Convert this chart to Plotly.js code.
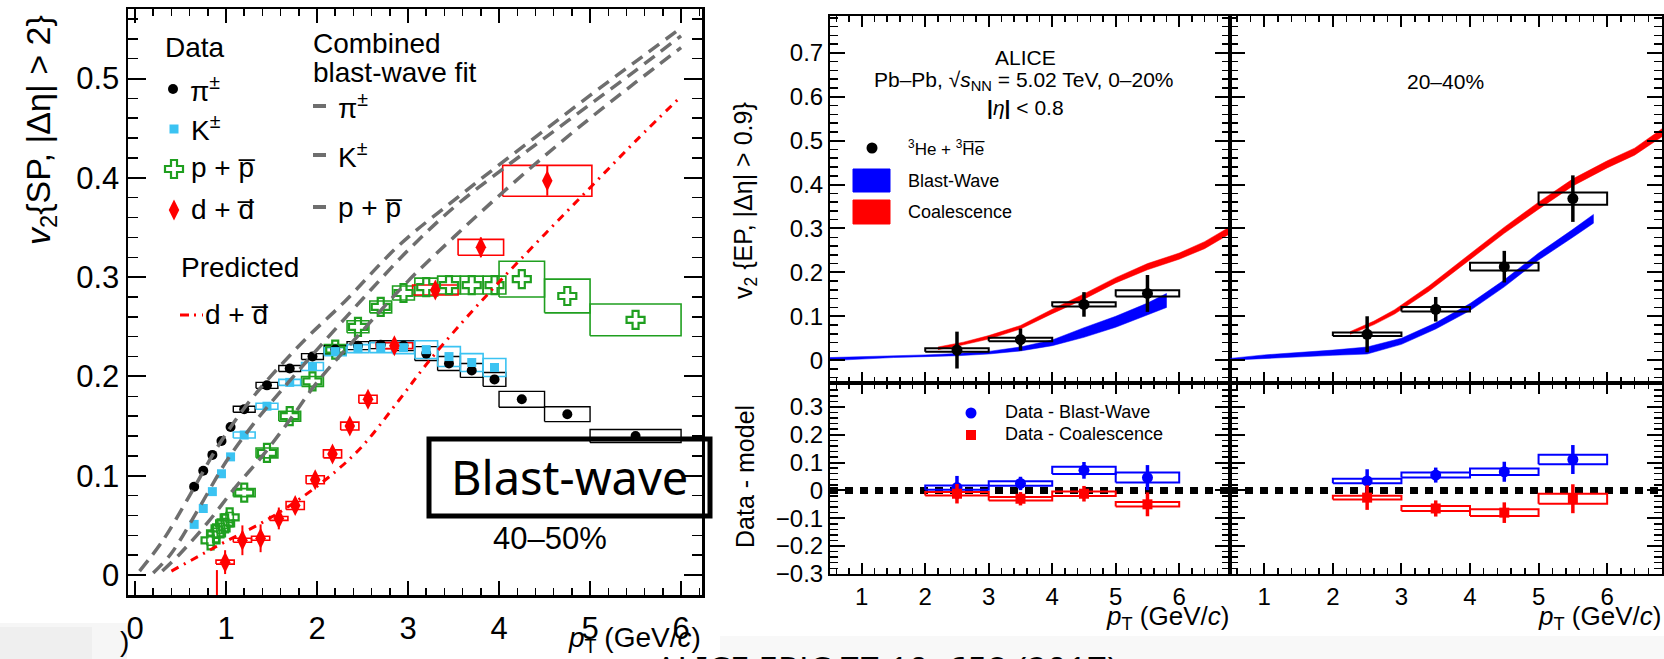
<!DOCTYPE html>
<html><head><meta charset="utf-8">
<script src="https://cdn.plot.ly/plotly-3.0.1.min.js"></script>
<style>html,body{margin:0;padding:0;background:#fff;} #chart{width:1664px;height:659px;}</style>
</head><body><div id="chart"></div>
<script>
// ================= LEFT PANEL: v2{SP,|dEta|>2}, 40-50% =================
const piPt   = [0.65,0.75,0.85,0.95,1.05,1.2,1.45,1.7,1.95,2.2,2.45,2.7,2.95,3.2,3.45,3.7,3.95,4.25,4.75,5.5];
const piV2   = [0.089,0.105,0.121,0.135,0.149,0.167,0.191,0.208,0.220,0.227,0.231,0.232,0.231,0.223,0.213,0.206,0.197,0.177,0.162,0.140];
const piBinH = [0,0,0,0,0,0.12,0.12,0.12,0.12,0.12,0.12,0.12,0.12,0.125,0.125,0.125,0.125,0.25,0.25,0.5];
const piSys  = [0,0,0,0,0,0.003,0.003,0.003,0.003,0.004,0.004,0.004,0.005,0.007,0.007,0.007,0.007,0.008,0.0075,0.0065];

const kPt   = [0.65,0.75,0.85,0.95,1.05,1.2,1.45,1.7,1.95,2.2,2.45,2.7,2.95,3.2,3.45,3.7,3.95];
const kV2   = [0.051,0.067,0.084,0.102,0.119,0.141,0.170,0.194,0.210,0.225,0.228,0.229,0.229,0.227,0.220,0.214,0.209];
const kBinH = [0,0,0,0,0,0.12,0.12,0.12,0.12,0.12,0.12,0.12,0.12,0.125,0.125,0.125,0.125];
const kSys  = [0,0,0,0,0,0.003,0.003,0.003,0.004,0.004,0.004,0.005,0.006,0.009,0.010,0.009,0.009];

const pPt   = [0.83,0.89,0.94,0.99,1.04,1.2,1.45,1.7,1.95,2.2,2.45,2.7,2.95,3.2,3.45,3.7,3.95,4.25,4.75,5.5];
const pV2   = [0.035,0.042,0.047,0.052,0.058,0.083,0.123,0.160,0.195,0.227,0.250,0.270,0.284,0.290,0.292,0.292,0.292,0.298,0.281,0.257];
const pBinH = [0.04,0.04,0.04,0.04,0.04,0.12,0.12,0.12,0.12,0.12,0.12,0.12,0.12,0.125,0.125,0.125,0.125,0.25,0.25,0.5];
const pSys  = [0.005,0.005,0.005,0.005,0.005,0.004,0.005,0.005,0.005,0.005,0.006,0.006,0.007,0.009,0.009,0.009,0.009,0.018,0.017,0.016];

const dPt   = [0.9,0.99,1.18,1.38,1.58,1.76,1.98,2.17,2.36,2.56,2.85,3.3,3.8,4.53];
const dV2   = [-0.04,0.013,0.035,0.037,0.057,0.070,0.096,0.122,0.150,0.177,0.231,0.287,0.330,0.397];
const dErr  = [0.045,0.012,0.015,0.014,0.011,0.005,0.004,0.004,0.004,0.004,0.005,0.006,0.010,0.015];
const dBinH = [0,0.1,0.1,0.1,0.1,0.1,0.1,0.1,0.1,0.1,0.2,0.25,0.25,0.49];
const dSys  = [0,0.002,0.002,0.002,0.002,0.004,0.004,0.004,0.004,0.004,0.003,0.005,0.008,0.0155];

// combined blast-wave fit curves
const bwPiPt = [0.05,0.3,0.6,0.9,1.2,1.5,1.9,2.3,2.9,3.5,4.0,4.5,5.0,5.5,6.0];
const bwPiV2 = [0.004,0.034,0.080,0.128,0.168,0.201,0.240,0.275,0.332,0.377,0.413,0.448,0.483,0.517,0.551];
const bwKPt  = [0.2,0.4,0.7,1.0,1.3,1.6,2.0,2.5,3.0,3.5,4.0,4.5,5.0,5.5,6.0];
const bwKV2  = [0.002,0.022,0.067,0.114,0.152,0.185,0.227,0.278,0.327,0.370,0.406,0.440,0.474,0.508,0.543];
const bwPPt  = [0.3,0.5,0.8,1.1,1.4,1.7,2.0,2.5,3.0,3.5,4.0,4.5,5.0,5.5,6.0];
const bwPV2  = [0.004,0.022,0.053,0.088,0.120,0.156,0.194,0.246,0.296,0.340,0.382,0.422,0.460,0.496,0.531];
// predicted deuteron v2
const predPt = [0.4,0.7,1.0,1.4,1.8,2.2,2.5,2.9,3.2,3.6,4.0,4.5,5.0,5.5,6.0];
const predV2 = [0.004,0.019,0.034,0.053,0.076,0.104,0.130,0.176,0.212,0.255,0.295,0.343,0.390,0.437,0.482];

// ================= RIGHT PANELS: 3He v2{EP} =================
const hePt   = [2.5,3.5,4.5,5.5];
const heBinH = [0.5,0.5,0.5,0.5];
const he0020 = [0.023,0.047,0.127,0.152];
const he0020Err = [0.042,0.025,0.028,0.042];
const he0020Sys = [0.004,0.004,0.005,0.007];
const he2040 = [0.059,0.116,0.213,0.368];
const he2040Err = [0.041,0.028,0.036,0.053];
const he2040Sys = [0.004,0.005,0.009,0.014];

const bwX0020  = [0.5,1.0,1.5,2.0,2.5,3.0,3.5,4.0,4.5,5.0,5.5,5.8];
const bwLo0020 = [-0.001,0.003,0.006,0.008,0.010,0.014,0.021,0.033,0.052,0.075,0.103,0.120];
const bwHi0020 = [0.006,0.008,0.010,0.012,0.015,0.020,0.030,0.046,0.074,0.100,0.130,0.152];
const coX0020   = [2.2,2.6,3.0,3.5,4.0,4.5,5.0,5.5,6.0,6.4,6.8];
const coMid0020 = [0.027,0.038,0.052,0.075,0.111,0.145,0.182,0.213,0.237,0.262,0.296];
const coHalf0020= [0.003,0.003,0.004,0.004,0.005,0.006,0.006,0.007,0.007,0.008,0.008];

const bwX2040    = [0.5,1.0,1.5,2.0,2.5,3.0,3.5,4.0,4.5,5.0,5.5,5.8];
const bwMid2040  = [0.002,0.008,0.013,0.017,0.022,0.043,0.078,0.121,0.175,0.236,0.289,0.322];
const bwHalf2040 = [0.002,0.004,0.005,0.006,0.008,0.007,0.007,0.008,0.008,0.008,0.009,0.010];
const coX2040    = [2.25,2.6,2.9,3.4,4.0,4.5,5.0,5.5,6.0,6.4,6.8];
const coMid2040  = [0.062,0.085,0.110,0.163,0.236,0.296,0.352,0.405,0.446,0.475,0.518];
const coHalf2040 = [0.003,0.004,0.005,0.006,0.007,0.007,0.008,0.008,0.008,0.008,0.009];

// Data - model
const dBW0020 = [0.010,0.025,0.072,0.046], dBW0020Err=[0.042,0.024,0.030,0.045], dBW0020Sys=[0.008,0.008,0.013,0.018];
const dCo0020 = [-0.012,-0.030,-0.012,-0.050], dCo0020Err=[0.035,0.024,0.028,0.043], dCo0020Sys=[0.006,0.006,0.008,0.008];
const dBW2040 = [0.034,0.055,0.067,0.111], dBW2040Err=[0.042,0.027,0.036,0.052], dBW2040Sys=[0.008,0.009,0.012,0.017];
const dCo2040 = [-0.026,-0.065,-0.080,-0.030], dCo2040Err=[0.044,0.029,0.037,0.052], dCo2040Sys=[0.007,0.009,0.012,0.018];
const zeroLineX = [0.5,6.8], zeroLineY = [0,0];

// ================= helpers =================
const W = 1664, H = 659;
const FONT = 'Liberation Sans, Arial, Helvetica, sans-serif';
const BLACK='#000000', CYAN='#3bc3f2', GREEN='#1f9f1f', RED='#ff0000', BLUE='#0000ff', GRAY='#6e6e6e';
const px = v => v / W, py = v => 1 - v / H;

function boxTrace(xs, ys, hx, hy, color, width, xa, ya) {
  const X = [], Y = [];
  for (let i = 0; i < xs.length; i++) {
    if (!(hx[i] > 0 && hy[i] > 0)) continue;
    const x0 = xs[i]-hx[i], x1 = xs[i]+hx[i], y0 = ys[i]-hy[i], y1 = ys[i]+hy[i];
    X.push(x0,x1,x1,x0,x0,null); Y.push(y0,y0,y1,y1,y0,null);
  }
  return {type:'scatter', mode:'lines', x:X, y:Y, xaxis:xa, yaxis:ya, hoverinfo:'skip',
          line:{color:color, width:width}, connectgaps:false};
}
function band(xs, lo, hi, color, xa, ya) {
  return {type:'scatter', mode:'lines', x: xs.concat(xs.slice().reverse()),
          y: lo.concat(hi.slice().reverse()), fill:'toself', fillcolor:color,
          line:{color:color, width:0.5}, xaxis:xa, yaxis:ya, hoverinfo:'skip'};
}
function midBand(xs, mid, half, color, xa, ya) {
  return band(xs, mid.map((m,i)=>m-half[i]), mid.map((m,i)=>m+half[i]), color, xa, ya);
}
function ann(text, x, y, size, opt) {
  return Object.assign({xref:'paper', yref:'paper', x:px(x), y:py(y), text:text, showarrow:false,
    xanchor:'left', yanchor:'middle', font:{family:FONT, size:size, color:'#000'}}, opt||{});
}

const traces = [];
// ---- left panel ----
traces.push(boxTrace(pPt, pV2, pBinH, pSys, GREEN, 1.6, 'x', 'y'));
traces.push(boxTrace(piPt, piV2, piBinH, piSys, BLACK, 1.4, 'x', 'y'));
traces.push(boxTrace(kPt, kV2, kBinH, kSys, CYAN, 1.6, 'x', 'y'));
traces.push(boxTrace(dPt, dV2, dBinH, dSys, RED, 1.6, 'x', 'y'));
traces.push({type:'scatter', mode:'markers', x:pPt, y:pV2, xaxis:'x', yaxis:'y',
  marker:{symbol:'cross-open', size:15, color:GREEN, line:{color:GREEN, width:2.2}}});
traces.push({type:'scatter', mode:'markers', x:piPt, y:piV2, xaxis:'x', yaxis:'y',
  marker:{symbol:'circle', size:10, color:BLACK}});
traces.push({type:'scatter', mode:'markers', x:kPt, y:kV2, xaxis:'x', yaxis:'y',
  marker:{symbol:'square', size:9, color:CYAN}});
traces.push({type:'scatter', mode:'markers', x:dPt, y:dV2, xaxis:'x', yaxis:'y',
  marker:{symbol:'diamond-tall', size:15, color:RED},
  error_y:{type:'data', array:dErr, visible:true, color:RED, thickness:2, width:0}});
traces.push({type:'scatter', mode:'lines', x:predPt, y:predV2, xaxis:'x', yaxis:'y',
  line:{color:RED, width:3, dash:'8px,6px,2px,6px', shape:'spline'}});
[[bwPiPt,bwPiV2],[bwKPt,bwKV2],[bwPPt,bwPV2]].forEach(c => traces.push({type:'scatter', mode:'lines',
  x:c[0], y:c[1], xaxis:'x', yaxis:'y', line:{color:GRAY, width:3.5, dash:'13px,8px', shape:'spline'}}));

// ---- right top panels ----
traces.push(band(bwX0020, bwLo0020, bwHi0020, BLUE, 'x2', 'y2'));
traces.push(midBand(coX0020, coMid0020, coHalf0020, RED, 'x2', 'y2'));
traces.push(boxTrace(hePt, he0020, heBinH, he0020Sys, BLACK, 2, 'x2', 'y2'));
traces.push({type:'scatter', mode:'markers', x:hePt, y:he0020, xaxis:'x2', yaxis:'y2',
  marker:{symbol:'circle', size:11, color:BLACK},
  error_y:{type:'data', array:he0020Err, visible:true, color:BLACK, thickness:3.5, width:0}});

traces.push(midBand(bwX2040, bwMid2040, bwHalf2040, BLUE, 'x3', 'y3'));
traces.push(midBand(coX2040, coMid2040, coHalf2040, RED, 'x3', 'y3'));
traces.push(boxTrace(hePt, he2040, heBinH, he2040Sys, BLACK, 2, 'x3', 'y3'));
traces.push({type:'scatter', mode:'markers', x:hePt, y:he2040, xaxis:'x3', yaxis:'y3',
  marker:{symbol:'circle', size:11, color:BLACK},
  error_y:{type:'data', array:he2040Err, visible:true, color:BLACK, thickness:3.5, width:0}});

// ---- right bottom panels ----
[['x4','y4',dBW0020,dBW0020Err,dBW0020Sys,dCo0020,dCo0020Err,dCo0020Sys],
 ['x5','y5',dBW2040,dBW2040Err,dBW2040Sys,dCo2040,dCo2040Err,dCo2040Sys]].forEach(p => {
  traces.push({type:'scatter', mode:'lines', x:zeroLineX, y:zeroLineY, xaxis:p[0], yaxis:p[1],
    line:{color:BLACK, width:7, dash:'8px,7px'}});
  traces.push(boxTrace(hePt, p[2], heBinH, p[4], BLUE, 2, p[0], p[1]));
  traces.push(boxTrace(hePt, p[5], heBinH, p[7], RED, 2, p[0], p[1]));
  traces.push({type:'scatter', mode:'markers', x:hePt, y:p[2], xaxis:p[0], yaxis:p[1],
    marker:{symbol:'circle', size:11, color:BLUE},
    error_y:{type:'data', array:p[3], visible:true, color:BLUE, thickness:3.5, width:0}});
  traces.push({type:'scatter', mode:'markers', x:hePt, y:p[5], xaxis:p[0], yaxis:p[1],
    marker:{symbol:'square', size:10, color:RED},
    error_y:{type:'data', array:p[6], visible:true, color:RED, thickness:3.5, width:0}});
});

// ---- legend glyphs on a pixel overlay axis ----
const G = (x, y, marker, extra) => Object.assign({type:'scatter', mode:'markers', x:[x], y:[y],
  xaxis:'x6', yaxis:'y6', marker:marker, hoverinfo:'skip', cliponaxis:false}, extra||{});
traces.push(G(173, 89, {symbol:'circle', size:10, color:BLACK}));
traces.push(G(174, 129, {symbol:'square', size:9, color:CYAN}));
traces.push(G(174, 169, {symbol:'cross-open', size:15, color:GREEN, line:{color:GREEN, width:2.2}}));
traces.push(G(174, 210, {symbol:'diamond-tall', size:15, color:RED}));
[106, 155, 207].forEach(yy => traces.push({type:'scatter', mode:'lines', x:[313,326], y:[yy,yy],
  xaxis:'x6', yaxis:'y6', line:{color:GRAY, width:4}, cliponaxis:false}));
traces.push({type:'scatter', mode:'lines', x:[180,203], y:[315,315], xaxis:'x6', yaxis:'y6',
  line:{color:RED, width:3, dash:'9px,5px,2px,6px'}, cliponaxis:false});
traces.push(G(872, 148, {symbol:'circle', size:11, color:BLACK}));
traces.push(G(971, 413, {symbol:'circle', size:11, color:BLUE}));
traces.push(G(971, 435, {symbol:'square', size:10, color:RED}));

// ================= layout =================
const base = {showline:true, linecolor:BLACK, mirror:'allticks', ticks:'inside', tickcolor:BLACK,
  showgrid:false, zeroline:false, fixedrange:true, tickfont:{family:FONT, color:BLACK}};
const ax = (o, minor) => Object.assign({}, base, o, {minor: Object.assign({ticks:'inside', tickcolor:BLACK}, minor)});

const rX = [0.5, 6.8];
const layout = {
  width: W, height: H, margin:{l:0, r:0, t:0, b:0, pad:0},
  paper_bgcolor:'#ffffff', plot_bgcolor:'rgba(0,0,0,0)', showlegend:false,
  xaxis:  ax({domain:[px(128), px(702)], range:[-0.077, 6.23], anchor:'y', tick0:0, dtick:1,
              ticklen:14, tickwidth:2, linewidth:2.5, ticklabelstandoff:4,
              tickfont:{family:FONT, size:31, color:BLACK}},
             {dtick:0.2, ticklen:7, tickwidth:1.5}),
  yaxis:  ax({domain:[py(595), py(9)], range:[-0.0201, 0.570], anchor:'x', tick0:0, dtick:0.1,
              ticklen:18, tickwidth:2, linewidth:2.5, tickfont:{family:FONT, size:31, color:BLACK}},
             {dtick:0.02, ticklen:10, tickwidth:1.5}),
  xaxis2: ax({domain:[px(830), px(1230)], range:rX, anchor:'y2', dtick:1, tick0:0, showticklabels:false,
              ticklen:11, tickwidth:2, linewidth:2}, {dtick:0.2, ticklen:6, tickwidth:1.5}),
  yaxis2: ax({domain:[py(383), py(16)], range:[-0.052, 0.784], anchor:'x2', dtick:0.1, tick0:0,
              ticklen:15, tickwidth:2, linewidth:2, tickfont:{family:FONT, size:24, color:BLACK}},
             {dtick:0.02, ticklen:8, tickwidth:1.5}),
  xaxis3: ax({domain:[px(1230), px(1662)], range:rX, anchor:'y3', dtick:1, tick0:0, showticklabels:false,
              ticklen:11, tickwidth:2, linewidth:2}, {dtick:0.2, ticklen:6, tickwidth:1.5}),
  yaxis3: ax({domain:[py(383), py(16)], range:[-0.052, 0.784], anchor:'x3', dtick:0.1, tick0:0,
              showticklabels:false, ticklen:15, tickwidth:2, linewidth:2}, {dtick:0.02, ticklen:8, tickwidth:1.5}),
  xaxis4: ax({domain:[px(830), px(1230)], range:rX, anchor:'y4', dtick:1, tick0:0,
              ticklen:11, tickwidth:2, linewidth:2, tickfont:{family:FONT, size:24, color:BLACK}},
             {dtick:0.2, ticklen:6, tickwidth:1.5}),
  yaxis4: ax({domain:[py(574), py(383)], range:[-0.3005, 0.386], anchor:'x4', dtick:0.1, tick0:0,
              ticklen:15, tickwidth:2, linewidth:2, tickfont:{family:FONT, size:24, color:BLACK}},
             {dtick:0.02, ticklen:8, tickwidth:1.5}),
  xaxis5: ax({domain:[px(1230), px(1662)], range:rX, anchor:'y5', dtick:1, tick0:0,
              ticklen:11, tickwidth:2, linewidth:2, tickfont:{family:FONT, size:24, color:BLACK}},
             {dtick:0.2, ticklen:6, tickwidth:1.5}),
  yaxis5: ax({domain:[py(574), py(383)], range:[-0.3005, 0.386], anchor:'x5', dtick:0.1, tick0:0,
              showticklabels:false, ticklen:15, tickwidth:2, linewidth:2}, {dtick:0.02, ticklen:8, tickwidth:1.5}),
  xaxis6: {domain:[0,1], range:[0,W], anchor:'y6', visible:false, fixedrange:true},
  yaxis6: {domain:[0,1], range:[H,0], anchor:'x6', visible:false, fixedrange:true},
  shapes: [
    {type:'rect', xref:'paper', yref:'paper', x0:0, x1:px(127), y0:py(H), y1:py(623), fillcolor:'#f6f6f6', line:{width:0}, layer:'below'},
    {type:'rect', xref:'paper', yref:'paper', x0:px(0), x1:px(92), y0:py(H), y1:py(627), fillcolor:'#efefef', line:{width:0}, layer:'below'},
    {type:'rect', xref:'paper', yref:'paper', x0:px(720), x1:1, y0:py(H), y1:py(636), fillcolor:'#f8f8f8', line:{width:0}, layer:'below'},
    {type:'rect', xref:'paper', yref:'paper', x0:px(429), x1:px(710), y0:py(516), y1:py(439), line:{color:BLACK, width:5}, layer:'above'},
    {type:'rect', xref:'paper', yref:'paper', x0:px(853), x1:px(890), y0:py(192), y1:py(169), fillcolor:BLUE, line:{color:BLUE, width:1}},
    {type:'rect', xref:'paper', yref:'paper', x0:px(853), x1:px(890), y0:py(224), y1:py(200), fillcolor:RED, line:{color:RED, width:1}}
  ],
  annotations: [
    // left panel
    ann('<i>v</i><sub>2</sub>{SP, |Δη| > 2}', 40, 130, 34, {xanchor:'center', textangle:-90}),
    ann('<i>p</i><sub>T</sub> (GeV/<i>c</i>)', 703, 659, 28, {xanchor:'right', yanchor:'bottom'}),
    ann('Data', 163, 47, 28),
    ann('π<sup>±</sup>', 188, 89, 28),
    ann('K<sup>±</sup>', 189, 128, 28),
    ann('p + p\u0305', 189, 168, 28),
    ann('d + d\u0305', 189, 209, 28),
    ann('Predicted', 179, 267, 28),
    ann('d + d\u0305', 203, 314, 28),
    ann('Combined', 311, 43, 28),
    ann('blast-wave fit', 311, 72, 28),
    ann('π<sup>±</sup>', 336, 106, 28),
    ann('K<sup>±</sup>', 336, 155, 28),
    ann('p + p\u0305', 336, 207, 28),
    ann('Blast-wave', 569, 477, 47, {xanchor:'center', font:{family:'Noto Sans, Open Sans, sans-serif', size:47, color:BLACK}}),
    ann('40–50%', 550, 538, 31, {xanchor:'center'}),
    ann(')', 131, 641, 28, {xanchor:'right'}),
    ann('ALICE EPJC 77 10, 658 (2017)', 886, 668, 35, {xanchor:'center', font:{family:'Noto Sans, Open Sans, sans-serif', size:35, color:BLACK}}),
    // right panels
    ann('v<sub>2</sub> {EP, |Δη| > 0.9}', 745, 201, 25, {xanchor:'center', textangle:-90}),
    ann('Data - model', 745, 477, 25, {xanchor:'center', textangle:-90}),
    ann('<i>p</i><sub>T</sub> (GeV/<i>c</i>)', 1231, 617, 26, {xanchor:'right'}),
    ann('<i>p</i><sub>T</sub> (GeV/<i>c</i>)', 1663, 617, 26, {xanchor:'right'}),
    ann('ALICE', 1025, 57, 21, {xanchor:'center'}),
    ann('Pb–Pb, √<i>s</i><sub>NN</sub> = 5.02 TeV, 0–20%', 1024, 81, 21, {xanchor:'center'}),
    ann('<b>|</b><i>η</i><b>|</b> < 0.8', 1025, 107, 21, {xanchor:'center'}),
    ann('<sup>3</sup>He + <sup>3</sup>H\u0305e\u0305', 906, 148, 17),
    ann('Blast-Wave', 906, 181, 18),
    ann('Coalescence', 906, 212, 18),
    ann('20–40%', 1445, 82, 21, {xanchor:'center'}),
    ann('Data - Blast-Wave', 1003, 412, 18),
    ann('Data - Coalescence', 1003, 434, 18)
  ]
};
Plotly.newPlot('chart', traces, layout, {staticPlot:true, displayModeBar:false});
</script></body></html>
